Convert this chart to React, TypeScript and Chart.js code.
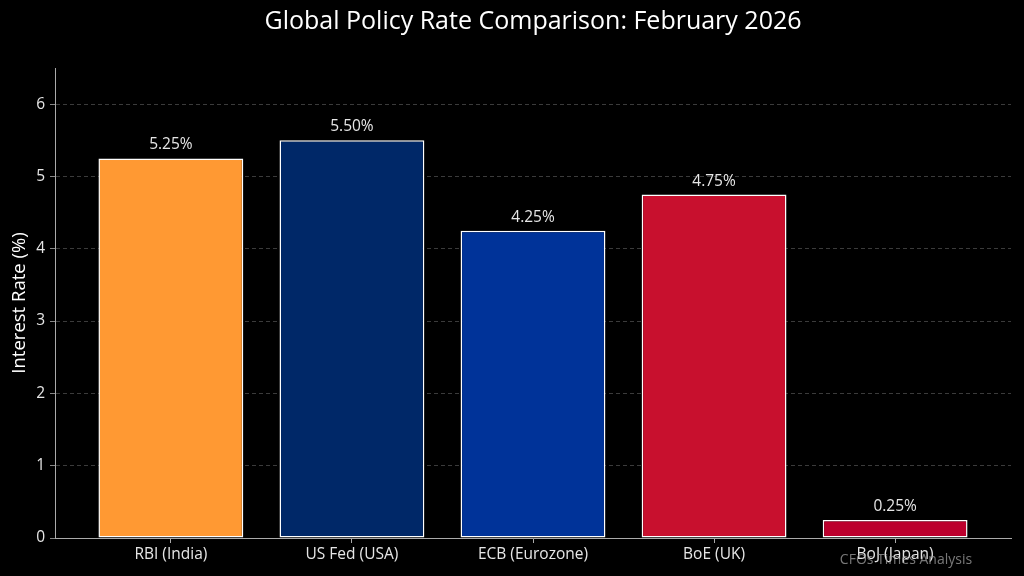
import React, { useEffect, useRef } from "react";
import { Chart, registerables } from "chart.js";

Chart.register(...registerables);

const categories = ["RBI (India)", "US Fed (USA)", "ECB (Eurozone)", "BoE (UK)", "BoJ (Japan)"];
const rates = [5.25, 5.5, 4.25, 4.75, 0.25];
const barColors = ["#FF9933", "#002868", "#003399", "#C8102E", "#BC002D"];
const yTicks = [0, 1, 2, 3, 4, 5, 6];
const titleText = "Global Policy Rate Comparison: February 2026";
const yLabel = "Interest Rate (%)";
const watermark = "CFOs Times Analysis";

const FONT = "'Open Sans', sans-serif";

export default function App() {
  const ref = useRef<HTMLCanvasElement | null>(null);

  useEffect(() => {
    document.body.style.margin = "0";
    document.body.style.background = "#000";
    const canvas = ref.current;
    if (!canvas) return;

    const overlay = {
      id: "overlay",
      beforeDraw(chart: any) {
        const ctx = chart.ctx;
        ctx.save();
        ctx.fillStyle = "#000";
        ctx.fillRect(0, 0, chart.width, chart.height);
        ctx.restore();
      },
      afterDraw(chart: any) {
        const ctx = chart.ctx;
        const area = chart.chartArea;
        ctx.save();
        // title
        ctx.fillStyle = "#ffffff";
        ctx.font = `25px ${FONT}`;
        ctx.textAlign = "center";
        ctx.textBaseline = "middle";
        ctx.fillText(titleText, (area.left + area.right) / 2, 22);
        // y label
        ctx.save();
        ctx.translate(20, (area.top + area.bottom) / 2);
        ctx.rotate(-Math.PI / 2);
        ctx.font = `18.5px ${FONT}`;
        ctx.fillStyle = "#ffffff";
        ctx.fillText(yLabel, 0, 0);
        ctx.restore();
        // value labels
        const meta = chart.getDatasetMeta(0);
        ctx.font = `15.5px ${FONT}`;
        ctx.fillStyle = "#e6e6e6";
        ctx.textBaseline = "alphabetic";
        meta.data.forEach((bar: any, i: number) => {
          ctx.fillText(rates[i].toFixed(2) + "%", bar.x, bar.y - 9);
        });
        // watermark
        ctx.font = `14px ${FONT}`;
        ctx.fillStyle = "rgba(160,160,160,0.75)";
        ctx.textBaseline = "middle";
        ctx.fillText(watermark, 906, 560);
        ctx.restore();
      },
    };

    const chart = new Chart(canvas, {
      type: "bar",
      data: {
        datasets: [
          {
            data: rates.map((v, i) => ({ x: i, y: v })),
            backgroundColor: barColors,
            borderColor: "#ffffff",
            borderWidth: 1.5,
            borderSkipped: false,
            barPercentage: 0.8,
            categoryPercentage: 1,
          },
        ],
      },
      options: {
        responsive: false,
        animation: false,
        devicePixelRatio: 1,
        layout: { padding: { top: 68, right: 13, left: 0, bottom: 0 } },
        plugins: { legend: { display: false }, title: { display: false }, tooltip: { enabled: false } },
        scales: {
          x: {
            type: "linear",
            offset: false,
            min: -0.64,
            max: 4.64,
            afterBuildTicks: (axis: any) => {
              axis.ticks = categories.map((_, i) => ({ value: i }));
            },
            afterFit: (axis: any) => {
              axis.height = 38;
            },
            ticks: {
              color: "#e6e6e6",
              font: { family: FONT, size: 15.5 },
              padding: 2,
              maxRotation: 0,
              autoSkip: false,
              callback: (v: any) => categories[Math.round(Number(v))] ?? "",
            },
            grid: {
              offset: false,
              drawOnChartArea: false,
              tickLength: 5,
              tickColor: "#aaaaaa",
            },
            border: { color: "#aaaaaa", width: 1 },
          },
          y: {
            min: 0,
            max: 6.5,
            afterBuildTicks: (axis: any) => {
              axis.ticks = yTicks.map((v) => ({ value: v }));
            },
            afterFit: (axis: any) => {
              axis.width = 55;
            },
            ticks: {
              color: "#e6e6e6",
              font: { family: FONT, size: 15.5 },
              padding: 5,
            },
            grid: {
              color: "#4a4a4a",
              tickColor: "#aaaaaa",
              tickLength: 5,
              tickBorderDash: [],
              lineWidth: 0.8,
            } as any,
            border: { color: "#aaaaaa", width: 1, dash: [4, 3] } as any,
          },
        },
      } as any,
      plugins: [overlay],
    });

    return () => chart.destroy();
  }, []);

  return <canvas ref={ref} width={1024} height={576} style={{ display: "block" }} />;
}
